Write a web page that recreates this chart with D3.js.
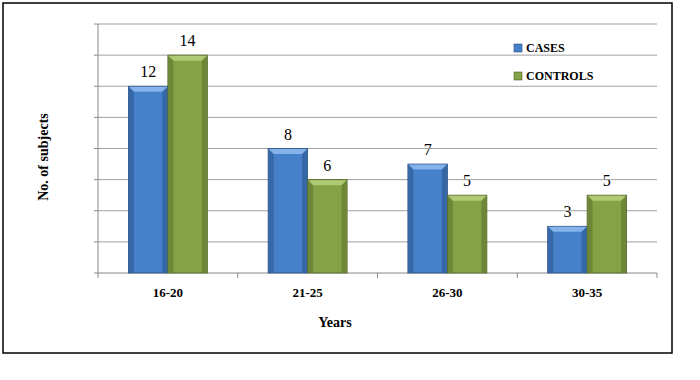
<!DOCTYPE html>
<html>
<head>
<meta charset="utf-8">
<script src="https://cdn.jsdelivr.net/npm/d3@7"></script>
</head>
<body style="margin:0">
<svg id="chart" width="700" height="380"></svg>
<script>
const categories = ["16-20", "21-25", "26-30", "30-35"];
const seriesNames = ["CASES", "CONTROLS"];
const cases = [12, 8, 7, 3];
const controls = [14, 6, 5, 5];
const yTicks = [0, 2, 4, 6, 8, 10, 12, 14, 16];

const FONT = '"Liberation Serif"';
const svg = d3.select("#chart");

const plot = { left: 98, right: 657, top: 24, bottom: 273 };

const x = d3.scaleBand().domain(categories).range([plot.left, plot.right])
  .paddingInner(0.435).paddingOuter(0.2175);
const xs = d3.scaleBand().domain(seriesNames).range([0, x.bandwidth()]).padding(0);
const y = d3.scaleLinear().domain([0, 16]).range([plot.bottom, plot.top]);

const palettes = {
  CASES: { fill: "#4680c8", edge: "#32629f", top: "#8cb8ee", stroke: "#2a4f80" },
  CONTROLS: { fill: "#84a246", edge: "#687f34", top: "#b4cf7a", stroke: "#4f6228" }
};

// text first
const data = categories.map((c, i) => ({ cat: c, vals: [cases[i], controls[i]] }));

svg.append("g").selectAll("text").data(categories).join("text")
  .attr("x", d => x(d) + x.bandwidth() / 2).attr("y", plot.bottom + 24)
  .attr("font-size", 13).attr("font-weight", "bold").attr("text-anchor", "middle")
  .style("font-family", FONT)
  .text(d => d);

seriesNames.forEach((s, si) => {
  svg.append("g").selectAll("text").data(data).join("text")
    .attr("x", d => x(d.cat) + xs(s) + xs.bandwidth() / 2).attr("y", d => y(d.vals[si]) - 9)
    .attr("font-size", 16).attr("text-anchor", "middle")
    .style("font-family", FONT)
    .text(d => d.vals[si]);
});

svg.append("text").attr("transform", "translate(48,157) rotate(-90)")
  .attr("font-size", 14).attr("font-weight", "bold").attr("text-anchor", "middle")
  .style("font-family", FONT)
  .text("No. of subjects");
svg.append("text").attr("x", 335).attr("y", 327)
  .attr("font-size", 14).attr("font-weight", "bold").attr("text-anchor", "middle")
  .style("font-family", FONT)
  .text("Years");

svg.append("g").selectAll("text").data(seriesNames).join("text")
  .attr("x", 526).attr("y", (d, i) => 52 + i * 28)
  .attr("font-size", 12).attr("font-weight", "bold")
  .style("font-family", FONT)
  .text(d => d);

// frame
svg.append("rect").attr("x", 3).attr("y", 3).attr("width", 669).attr("height", 350)
  .attr("fill", "none").attr("stroke", "#000").attr("stroke-width", 1.5);

// gridlines
svg.append("g").selectAll("line").data(yTicks.filter(t => t > 0)).join("line")
  .attr("x1", plot.left).attr("x2", plot.right)
  .attr("y1", d => y(d)).attr("y2", d => y(d))
  .attr("stroke", "#a0a0a0").attr("stroke-width", 1);

// y axis
svg.append("line").attr("x1", plot.left).attr("x2", plot.left).attr("y1", plot.top).attr("y2", plot.bottom).attr("stroke", "#888");
svg.append("g").selectAll("line").data(yTicks).join("line")
  .attr("x1", plot.left - 4).attr("x2", plot.left).attr("y1", d => y(d)).attr("y2", d => y(d)).attr("stroke", "#888");

// x axis
svg.append("line").attr("x1", plot.left).attr("x2", plot.right).attr("y1", plot.bottom).attr("y2", plot.bottom).attr("stroke", "#888");
const boundaries = categories.map(c => x(c) - x.step() * 0.2175).concat([plot.right]);
svg.append("g").selectAll("line").data(boundaries).join("line")
  .attr("x1", d => d).attr("x2", d => d).attr("y1", plot.bottom).attr("y2", plot.bottom + 5).attr("stroke", "#888");

// bars
seriesNames.forEach((s, si) => {
  const pal = palettes[s];
  const g = svg.append("g");
  const bx = d => x(d.cat) + xs(s);
  const by = d => y(d.vals[si]);
  const bh = d => y(0) - y(d.vals[si]);
  const w = xs.bandwidth();
  g.selectAll("rect.main").data(data).join("rect").attr("class", "main")
    .attr("x", bx).attr("y", by).attr("width", w).attr("height", bh)
    .attr("fill", pal.fill).attr("stroke", pal.stroke).attr("stroke-width", 0.8);
  g.selectAll("rect.l").data(data).join("rect").attr("class", "l")
    .attr("x", d => bx(d) + 0.5).attr("y", by).attr("width", 5).attr("height", bh)
    .attr("fill", pal.edge).attr("opacity", 0.8);
  g.selectAll("rect.r").data(data).join("rect").attr("class", "r")
    .attr("x", d => bx(d) + w - 5.5).attr("y", by).attr("width", 5).attr("height", bh)
    .attr("fill", pal.edge).attr("opacity", 0.8);
  g.selectAll("path").data(data).join("path")
    .attr("d", d => {
      const x0 = bx(d) + 0.5, x1 = bx(d) + w - 0.5, yt = by(d) + 0.5, b = 5;
      return `M${x0},${yt}L${x1},${yt}L${x1 - b},${yt + b}L${x0 + b},${yt + b}Z`;
    })
    .attr("fill", pal.top).attr("opacity", 0.9);
});

// legend swatches
svg.append("g").selectAll("rect").data(seriesNames).join("rect")
  .attr("x", 514).attr("y", (d, i) => 44 + i * 28).attr("width", 8).attr("height", 8)
  .attr("fill", d => palettes[d].fill).attr("stroke", d => palettes[d].stroke).attr("stroke-width", 0.6);
</script>
</body>
</html>
